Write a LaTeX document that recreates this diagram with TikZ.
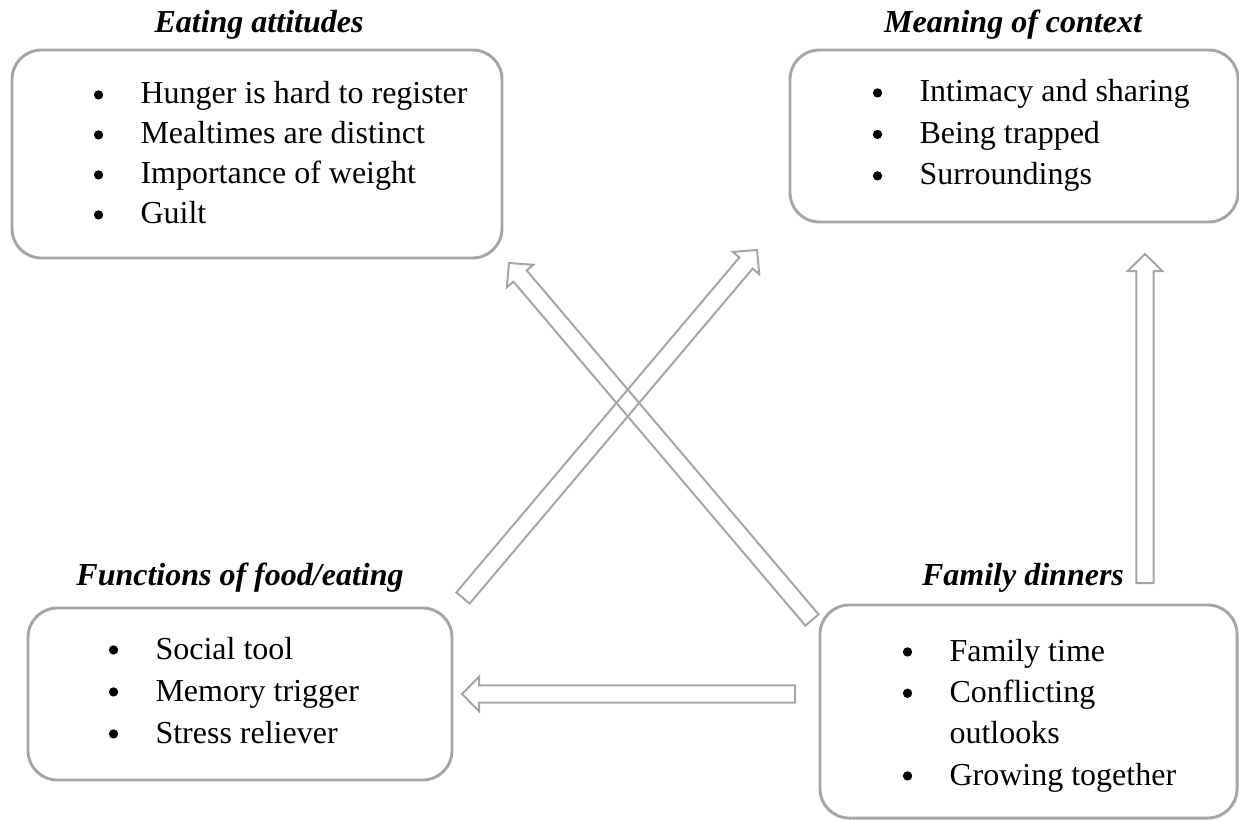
\documentclass[tikz,border=0pt]{standalone}
\usepackage{fontspec}
\setmainfont{Liberation Serif}
\usetikzlibrary{calc}

\definecolor{edgegray}{HTML}{A6A6A6}

\tikzset{
  panel/.style={draw=edgegray, line width=1.1pt, rounded corners=11pt, inner sep=0pt},
  heading/.style={font=\fontsize{12}{15}\selectfont\bfseries\itshape, anchor=base, inner sep=0pt},
  listing/.style={anchor=base west, inner sep=0pt},
  blockarrow/.style={draw=edgegray, line width=0.75pt, line join=miter},
}

% round bullet followed by a fixed indent
\newcommand{\itm}{\hbox to 17.85pt{\hskip0.35pt\tikz[x=1pt,y=1pt,baseline=0pt]\fill (1.75,3.4) circle[radius=1.75];\hss}}
\newcommand{\cont}{\hbox to 17.85pt{\hss}}
% list lines set in a top-aligned column with a given line pitch
\newcommand{\bulletlist}[2]{\fontsize{12}{#1}\selectfont\begin{tabular}[t]{@{}l@{}}#2\end{tabular}}

% outlined block arrow from #1 to #2; #3 names its helper point
\newcommand{\blockarr}[3]{%
  \coordinate (#3hb) at ($(#2)!6.4pt!(#1)$);
  \draw[blockarrow]
    ($(#1)!3.25pt!90:(#2)$) -- ($(#3hb)!3.25pt!90:(#2)$) --
    ($(#3hb)!6.5pt!90:(#2)$) -- (#2) -- ($(#3hb)!6.5pt!-90:(#2)$) --
    ($(#3hb)!3.25pt!-90:(#2)$) -- ($(#1)!3.25pt!-90:(#2)$) -- cycle;
}

\begin{document}
\begin{tikzpicture}[x=0.375pt, y=-0.375pt]
  \useasboundingbox (0,0) rectangle (1239,820);

  % theme panels
  \node[panel, minimum width=183.75pt, minimum height=78pt]   (eat) at (257,154) {};
  \node[panel, minimum width=168pt,    minimum height=64.5pt] (ctx) at (1014,136) {};
  \node[panel, minimum width=159pt,    minimum height=64.5pt] (fun) at (240,694) {};
  \node[panel, minimum width=156.4pt,  minimum height=79.9pt] (fam) at (1028.5,711.5) {};

  % panel headings
  \node[heading] (eatT) at (259,33)  {Eating attitudes};
  \node[heading] (ctxT) at (1013,33) {Meaning of context};
  \node[heading] (funT) at (240,585) {Functions of food/eating};
  \node[heading] (famT) at (1023,585) {Family dinners};

  % sub-themes
  \node[listing] (eatL) at (92.4,104) {\bulletlist{15pt}{%
      \itm Hunger is hard to register\\
      \itm Mealtimes are distinct\\
      \itm Importance of weight\\
      \itm Guilt}};
  \node[listing] (ctxL) at (871.4,102) {\bulletlist{15.55pt}{%
      \itm Intimacy and sharing\\
      \itm Being trapped\\
      \itm Surroundings}};
  \node[listing] (funL) at (107.4,659) {\bulletlist{15.75pt}{%
      \itm Social tool\\
      \itm Memory trigger\\
      \itm Stress reliever}};
  \node[listing] (famL) at (901.4,661) {\bulletlist{15.5pt}{%
      \itm Family time\\
      \itm Conflicting\\
      \cont outlooks\\
      \itm Growing together}};

  % arrow ends
  \coordinate (famUp)   at (1145,583);
  \coordinate (ctxIn)   at (1145,254);
  \coordinate (famLeft) at (795,694);
  \coordinate (funIn)   at (462,694);
  \coordinate (funOut)  at (463,598);
  \coordinate (ctxIn2)  at (757,250);
  \coordinate (famOut)  at (812,620);
  \coordinate (eatIn)   at (509,263);

  % links between themes
  \blockarr{famUp}{ctxIn}{a}
  \blockarr{famLeft}{funIn}{b}
  \blockarr{funOut}{ctxIn2}{c}
  \blockarr{famOut}{eatIn}{d}
\end{tikzpicture}
\end{document}
